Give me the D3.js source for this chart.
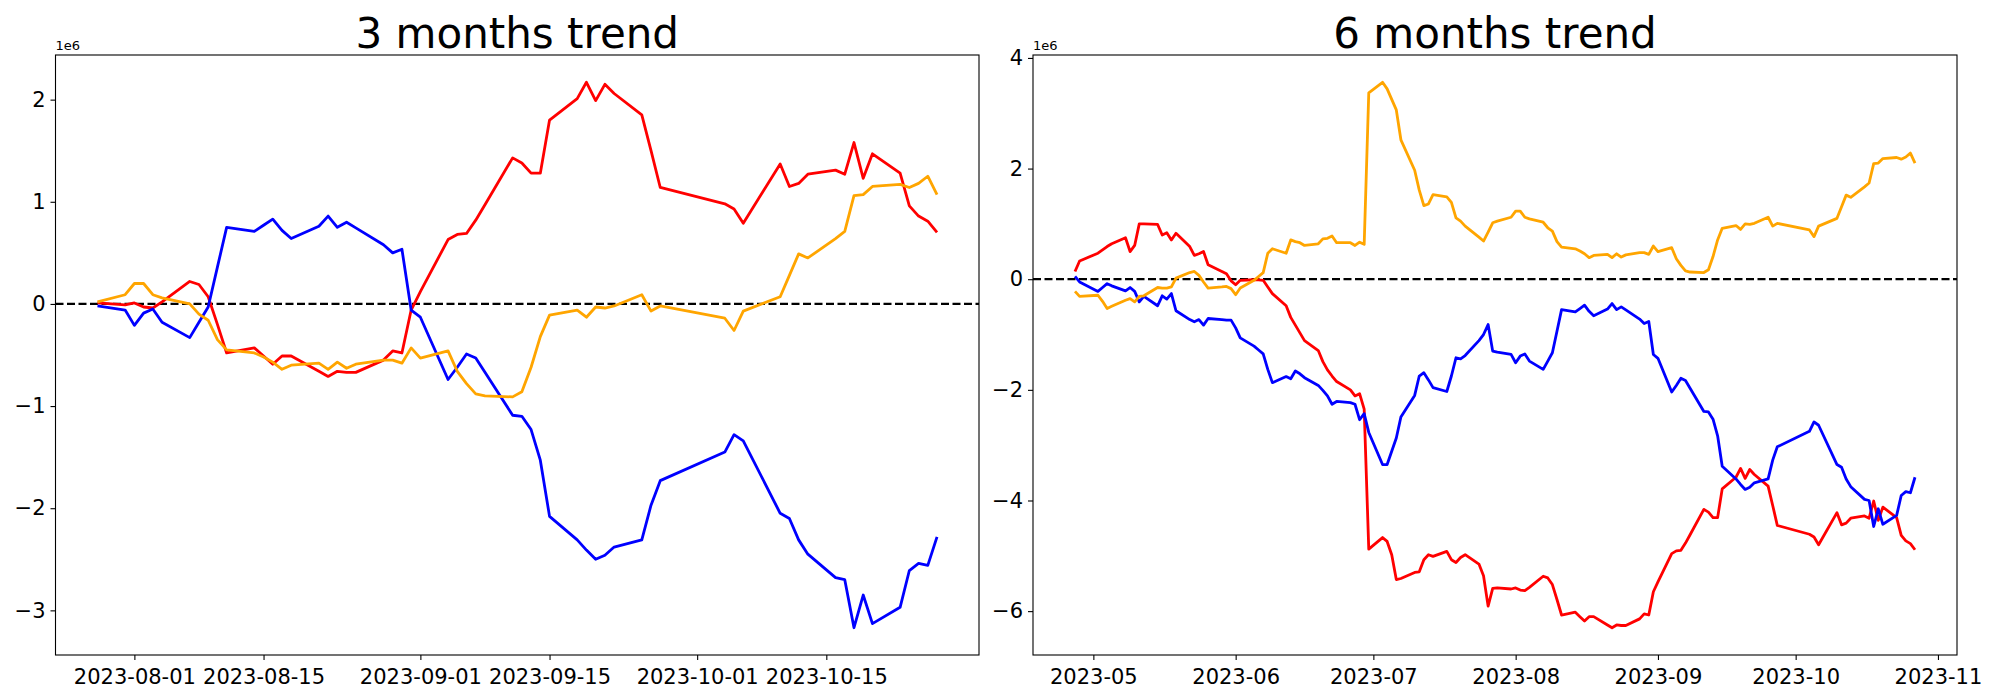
<!DOCTYPE html>
<html lang="en">
<head>
<meta charset="UTF-8">
<title>3 months / 6 months trend</title>
<script src="https://d3js.org/d3.v7.min.js"></script>
<style>
    body { margin: 0; background: #fff; }
    svg { display: block; font-family: "DejaVu Sans", sans-serif; }
</style>
</head>
<body>
<svg id="chart" width="2000" height="700"></svg>
<script>
// all values are in units of 1e6 (the axes show the "1e6" offset label)

// ---- 3 months panel ----
const dates3m = [
    "2023-07-28","2023-07-31","2023-08-01","2023-08-02","2023-08-03","2023-08-04",
    "2023-08-07","2023-08-08","2023-08-09","2023-08-10","2023-08-11",
    "2023-08-14","2023-08-15","2023-08-16","2023-08-17","2023-08-18",
    "2023-08-21","2023-08-22","2023-08-23","2023-08-24","2023-08-25",
    "2023-08-28","2023-08-29","2023-08-30","2023-08-31","2023-09-01",
    "2023-09-04","2023-09-05","2023-09-06","2023-09-07","2023-09-08",
    "2023-09-11","2023-09-12","2023-09-13","2023-09-14","2023-09-15",
    "2023-09-18","2023-09-19","2023-09-20","2023-09-21","2023-09-22",
    "2023-09-25","2023-09-26","2023-09-27",
    "2023-10-04","2023-10-05","2023-10-06",
    "2023-10-10","2023-10-11","2023-10-12","2023-10-13",
    "2023-10-16","2023-10-17","2023-10-18","2023-10-19","2023-10-20",
    "2023-10-23","2023-10-24","2023-10-25","2023-10-26","2023-10-27"
];
const red3m = [
    0.01, -0.01, 0.01, -0.03, -0.04, 0.02,
    0.22, 0.19, 0.07, -0.20, -0.48,
    -0.43, -0.51, -0.59, -0.51, -0.51,
    -0.66, -0.71, -0.66, -0.67, -0.67,
    -0.55, -0.46, -0.48, -0.06, 0.12,
    0.63, 0.68, 0.69, 0.82, 0.97,
    1.43, 1.38, 1.28, 1.28, 1.80,
    2.01, 2.17, 1.99, 2.15, 2.06,
    1.85, 1.50, 1.14,
    0.98, 0.93, 0.79,
    1.37, 1.15, 1.18, 1.27,
    1.31, 1.27, 1.58, 1.23, 1.47,
    1.28, 0.96, 0.86, 0.81, 0.70
];
const blue3m = [
    -0.02, -0.06, -0.21, -0.09, -0.05, -0.18,
    -0.33, -0.18, -0.03, 0.36, 0.75,
    0.71, 0.77, 0.83, 0.72, 0.64,
    0.76, 0.86, 0.75, 0.80, 0.745,
    0.58, 0.50, 0.535, -0.06, -0.13,
    -0.74, -0.62, -0.49, -0.53, -0.67,
    -1.09, -1.10, -1.23, -1.53, -2.08,
    -2.31, -2.41, -2.50, -2.46, -2.38,
    -2.31, -1.97, -1.73,
    -1.45, -1.28, -1.34,
    -2.05, -2.10, -2.31, -2.45,
    -2.68, -2.70, -3.17, -2.85, -3.13,
    -2.97, -2.61, -2.54, -2.56, -2.28
];
const orange3m = [
    0.02, 0.09, 0.20, 0.20, 0.09, 0.06,
    0.00, -0.10, -0.16, -0.35, -0.45,
    -0.48, -0.52, -0.57, -0.64, -0.60,
    -0.58, -0.64, -0.57, -0.63, -0.59,
    -0.55, -0.55, -0.58, -0.43, -0.53,
    -0.46, -0.66, -0.78, -0.88, -0.90,
    -0.91, -0.86, -0.62, -0.32, -0.11,
    -0.06, -0.13, -0.03, -0.04, -0.02,
    0.09, -0.07, -0.02,
    -0.14, -0.26, -0.07,
    0.07, 0.28, 0.49, 0.45,
    0.64, 0.71, 1.06, 1.07, 1.15,
    1.17, 1.14, 1.18, 1.25, 1.07
];
const yTicks3m = [-3, -2, -1, 0, 1, 2];
const xTicks3m = ["2023-08-01","2023-08-15","2023-09-01","2023-09-15","2023-10-01","2023-10-15"];

// ---- 6 months panel ----
const dates6m = [
    "2023-04-27","2023-04-28","2023-05-02","2023-05-03","2023-05-04","2023-05-05",
    "2023-05-08","2023-05-09","2023-05-10","2023-05-11","2023-05-12",
    "2023-05-15","2023-05-16","2023-05-17","2023-05-18","2023-05-19",
    "2023-05-22","2023-05-23","2023-05-24","2023-05-25","2023-05-26",
    "2023-05-29","2023-05-30","2023-05-31","2023-06-01","2023-06-02",
    "2023-06-05","2023-06-06","2023-06-07","2023-06-08","2023-06-09",
    "2023-06-12","2023-06-13","2023-06-14","2023-06-15","2023-06-16",
    "2023-06-19","2023-06-20","2023-06-21","2023-06-22","2023-06-23",
    "2023-06-26","2023-06-27","2023-06-28","2023-06-29","2023-06-30",
    "2023-07-03","2023-07-04","2023-07-05","2023-07-06","2023-07-07",
    "2023-07-10","2023-07-11","2023-07-12","2023-07-13","2023-07-14",
    "2023-07-17","2023-07-18","2023-07-19","2023-07-20","2023-07-21",
    "2023-07-24","2023-07-25","2023-07-26","2023-07-27","2023-07-28",
    "2023-07-31","2023-08-01","2023-08-02","2023-08-03","2023-08-04",
    "2023-08-07","2023-08-08","2023-08-09","2023-08-10","2023-08-11",
    "2023-08-14","2023-08-15","2023-08-16","2023-08-17","2023-08-18",
    "2023-08-21","2023-08-22","2023-08-23","2023-08-24","2023-08-25",
    "2023-08-28","2023-08-29","2023-08-30","2023-08-31","2023-09-01",
    "2023-09-04","2023-09-05","2023-09-06","2023-09-07","2023-09-08",
    "2023-09-11","2023-09-12","2023-09-13","2023-09-14","2023-09-15",
    "2023-09-18","2023-09-19","2023-09-20","2023-09-21","2023-09-22",
    "2023-09-25","2023-09-26","2023-09-27",
    "2023-10-04","2023-10-05","2023-10-06",
    "2023-10-10","2023-10-11","2023-10-12","2023-10-13",
    "2023-10-16","2023-10-17","2023-10-18","2023-10-19","2023-10-20",
    "2023-10-23","2023-10-24","2023-10-25","2023-10-26","2023-10-27"
];
const red6m = [
    0.14, 0.33, 0.47, 0.53, 0.59, 0.64,
    0.75, 0.50, 0.61, 1.00, 1.00,
    0.99, 0.80, 0.84, 0.71, 0.83,
    0.59, 0.43, 0.46, 0.50, 0.26,
    0.14, 0.10, -0.03, -0.10, -0.02,
    -0.01, -0.01, -0.02, -0.14, -0.26,
    -0.48, -0.69, -0.83, -0.97, -1.11,
    -1.29, -1.49, -1.64, -1.75, -1.85,
    -2.00, -2.11, -2.07, -2.35, -4.88,
    -4.67, -4.74, -4.98, -5.43, -5.41,
    -5.30, -5.29, -5.07, -4.98, -5.01,
    -4.92, -5.07, -5.12, -5.03, -4.98,
    -5.15, -5.36, -5.91, -5.59, -5.58,
    -5.60, -5.58, -5.62, -5.63, -5.57,
    -5.37, -5.40, -5.52, -5.79, -6.07,
    -6.02, -6.10, -6.18, -6.10, -6.10,
    -6.25, -6.30, -6.25, -6.26, -6.26,
    -6.14, -6.05, -6.07, -5.65, -5.47,
    -4.96, -4.91, -4.90, -4.77, -4.62,
    -4.16, -4.21, -4.31, -4.31, -3.79,
    -3.58, -3.42, -3.60, -3.44, -3.53,
    -3.74, -4.09, -4.45,
    -4.61, -4.66, -4.80,
    -4.22, -4.44, -4.41, -4.32,
    -4.28, -4.32, -4.01, -4.36, -4.12,
    -4.31, -4.63, -4.73, -4.78, -4.89
];
const blue6m = [
    0.05, -0.05, -0.22, -0.15, -0.08, -0.12,
    -0.21, -0.15, -0.22, -0.41, -0.31,
    -0.48, -0.30, -0.36, -0.26, -0.57,
    -0.73, -0.77, -0.73, -0.83, -0.71,
    -0.73, -0.74, -0.74, -0.88, -1.06,
    -1.21, -1.28, -1.35, -1.63, -1.87,
    -1.76, -1.80, -1.66, -1.71, -1.78,
    -1.92, -2.01, -2.11, -2.26, -2.21,
    -2.23, -2.26, -2.54, -2.43, -2.77,
    -3.35, -3.35, -3.11, -2.87, -2.49,
    -2.10, -1.75, -1.69, -1.82, -1.96,
    -2.03, -1.75, -1.42, -1.44, -1.38,
    -1.11, -1.00, -0.82, -1.30, -1.32,
    -1.36, -1.51, -1.39, -1.35, -1.48,
    -1.63, -1.48, -1.33, -0.94, -0.55,
    -0.59, -0.53, -0.47, -0.58, -0.66,
    -0.54, -0.44, -0.55, -0.50, -0.555,
    -0.72, -0.80, -0.765, -1.36, -1.43,
    -2.04, -1.92, -1.79, -1.83, -1.97,
    -2.39, -2.40, -2.53, -2.83, -3.38,
    -3.61, -3.71, -3.80, -3.76, -3.68,
    -3.61, -3.27, -3.03,
    -2.75, -2.58, -2.64,
    -3.35, -3.40, -3.61, -3.75,
    -3.98, -4.00, -4.47, -4.15, -4.43,
    -4.27, -3.91, -3.84, -3.86, -3.58
];
const orange6m = [
    -0.22, -0.31, -0.29, -0.40, -0.53, -0.49,
    -0.38, -0.35, -0.41, -0.31, -0.30,
    -0.15, -0.16, -0.16, -0.14, 0.02,
    0.12, 0.14, 0.07, -0.05, -0.16,
    -0.14, -0.13, -0.17, -0.28, -0.16,
    -0.02, 0.05, 0.12, 0.47, 0.55,
    0.47, 0.71, 0.68, 0.66, 0.61,
    0.64, 0.73, 0.74, 0.78, 0.66,
    0.66, 0.61, 0.67, 0.63, 3.37,
    3.56, 3.44, 3.25, 3.06, 2.52,
    1.97, 1.61, 1.33, 1.36, 1.53,
    1.49, 1.39, 1.11, 1.05, 0.96,
    0.76, 0.69, 0.85, 1.02, 1.05,
    1.12, 1.23, 1.23, 1.12, 1.09,
    1.03, 0.93, 0.87, 0.68, 0.58,
    0.55, 0.51, 0.46, 0.39, 0.43,
    0.45, 0.39, 0.46, 0.40, 0.44,
    0.48, 0.48, 0.45, 0.60, 0.50,
    0.57, 0.37, 0.25, 0.15, 0.13,
    0.12, 0.17, 0.41, 0.71, 0.92,
    0.97, 0.90, 1.00, 0.99, 1.01,
    1.12, 0.96, 1.01,
    0.89, 0.77, 0.96,
    1.10, 1.31, 1.52, 1.48,
    1.67, 1.74, 2.09, 2.10, 2.18,
    2.20, 2.17, 2.21, 2.28, 2.10
];
const yTicks6m = [-6, -4, -2, 0, 2, 4];
const xTicks6m = ["2023-05-01","2023-06-01","2023-07-01","2023-08-01","2023-09-01","2023-10-01","2023-11-01"];

const parseDate = d3.utcParse("%Y-%m-%d");
const svg = d3.select("#chart");
svg.append("rect").attr("width", 2000).attr("height", 700).attr("fill", "#fff");

// matplotlib style 5% margins
function padded(lo, hi) {
    const m = (hi - lo) * 0.05;
    return [lo - m, hi + m];
}

function drawPanel(p) {
    const dates = p.dates.map(parseDate);
    const series = [
        { values: p.red, color: "red" },
        { values: p.blue, color: "blue" },
        { values: p.orange, color: "orange" }
    ];
    const allVals = series.flatMap(s => s.values);

    const x = d3.scaleUtc()
        .domain(padded(+dates[0], +dates[dates.length - 1]))
        .range([p.left, p.right]);
    const y = d3.scaleLinear()
        .domain(padded(d3.min(allVals), d3.max(allVals)))
        .range([p.bottom, p.top]);

    const g = svg.append("g");

    // zero reference line
    g.append("line")
        .attr("x1", p.left).attr("x2", p.right)
        .attr("y1", y(0)).attr("y2", y(0))
        .attr("stroke", "black")
        .attr("stroke-width", 2.2)
        .attr("stroke-dasharray", "8,3.5");

    const line = d3.line()
        .x((d, i) => x(dates[i]))
        .y(d => y(d));

    series.forEach(s => {
        g.append("path")
            .datum(s.values)
            .attr("d", line)
            .attr("fill", "none")
            .attr("stroke", s.color)
            .attr("stroke-width", 2.8)
            .attr("stroke-linejoin", "round");
    });

    // frame
    g.append("rect")
        .attr("x", p.left).attr("y", p.top)
        .attr("width", p.right - p.left).attr("height", p.bottom - p.top)
        .attr("fill", "none").attr("stroke", "black").attr("stroke-width", 1.1);

    const fmtY = v => v < 0 ? "\u2212" + Math.abs(v) : String(v);
    const yAxis = g.append("g")
        .attr("transform", `translate(${p.left},0)`)
        .call(d3.axisLeft(y).tickValues(p.yTicks).tickFormat(fmtY).tickSize(5).tickPadding(5));
    const xAxis = g.append("g")
        .attr("transform", `translate(0,${p.bottom})`)
        .call(d3.axisBottom(x).tickValues(p.xTicks.map(parseDate))
            .tickFormat(d3.utcFormat(p.xFormat)).tickSize(5).tickPadding(4));

    [yAxis, xAxis].forEach(a => {
        a.select(".domain").remove();
        a.selectAll(".tick line").attr("stroke", "black").attr("stroke-width", 1.1);
        a.selectAll(".tick text")
            .attr("fill", "black")
            .style("font-family", "DejaVu Sans")
            .style("font-size", "21px");
    });
    xAxis.selectAll(".tick text").attr("dy", "0.95em");

    // offset label
    g.append("text")
        .attr("x", p.left).attr("y", p.top - 5)
        .style("font-size", "13px")
        .text("1e6");

    // title
    g.append("text")
        .attr("x", (p.left + p.right) / 2).attr("y", p.top - 7)
        .attr("text-anchor", "middle")
        .style("font-size", "42px")
        .text(p.title);
}

drawPanel({
    title: "3 months trend",
    left: 55.5, right: 979, top: 55, bottom: 655,
    dates: dates3m, red: red3m, blue: blue3m, orange: orange3m,
    yTicks: yTicks3m, xTicks: xTicks3m, xFormat: "%Y-%m-%d"
});

drawPanel({
    title: "6 months trend",
    left: 1033, right: 1957, top: 55, bottom: 655,
    dates: dates6m, red: red6m, blue: blue6m, orange: orange6m,
    yTicks: yTicks6m, xTicks: xTicks6m, xFormat: "%Y-%m"
});
</script>
</body>
</html>
